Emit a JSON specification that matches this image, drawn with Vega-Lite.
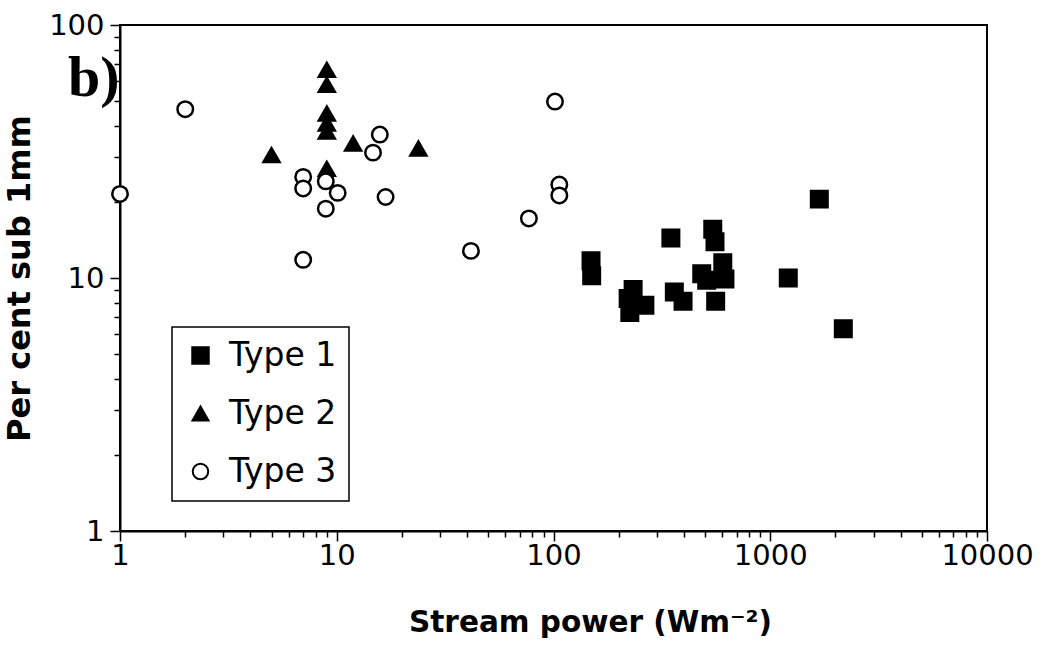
{
  "$schema": "https://vega.github.io/schema/vega-lite/v6.json",
  "autosize": {"type": "none"},
  "padding": {"left": 120, "top": 25, "right": 60, "bottom": 114},
  "width": 867,
  "height": 506,
  "background": "white",
  "title": {
    "text": "b)",
    "anchor": "start",
    "orient": "top",
    "frame": "group",
    "font": "Liberation Serif",
    "fontWeight": "bold",
    "fontSize": 58,
    "color": "black",
    "baseline": "alphabetic",
    "offset": 0,
    "dx": -52,
    "dy": 143
  },
  "config": {
    "view": {"stroke": "black", "strokeWidth": 2},
    "axis": {
      "domainColor": "black",
      "domainWidth": 2,
      "tickColor": "black",
      "tickWidth": 1.5,
      "grid": false,
      "labelFont": "DejaVu Sans",
      "labelFontSize": 29,
      "labelColor": "black",
      "labelFlush": false,
      "labelOverlap": false,
      "titleFont": "DejaVu Sans",
      "titleFontWeight": "bold",
      "titleColor": "black"
    },
    "legend": {
      "orient": "none",
      "legendX": 52,
      "legendY": 302,
      "strokeColor": "black",
      "strokeWidth": 1.5,
      "padding": 12,
      "symbolSize": 160,
      "symbolStrokeColor": "black",
      "symbolStrokeWidth": 2,
      "symbolOffset": 0,
      "labelFont": "DejaVu Sans",
      "labelFontSize": 33,
      "labelColor": "black",
      "labelOffset": 12,
      "rowPadding": 24
    }
  },
  "data": {
    "values": [
      {"power": 1684, "pct": 20.5, "type": "Type 1"},
      {"power": 348, "pct": 14.4, "type": "Type 1"},
      {"power": 543, "pct": 15.6, "type": "Type 1"},
      {"power": 556, "pct": 13.9, "type": "Type 1"},
      {"power": 604, "pct": 11.5, "type": "Type 1"},
      {"power": 618, "pct": 9.9, "type": "Type 1"},
      {"power": 483, "pct": 10.4, "type": "Type 1"},
      {"power": 509, "pct": 9.8, "type": "Type 1"},
      {"power": 149, "pct": 11.7, "type": "Type 1"},
      {"power": 150, "pct": 10.2, "type": "Type 1"},
      {"power": 233, "pct": 9.0, "type": "Type 1"},
      {"power": 221, "pct": 8.3, "type": "Type 1"},
      {"power": 225, "pct": 7.3, "type": "Type 1"},
      {"power": 264, "pct": 7.8, "type": "Type 1"},
      {"power": 361, "pct": 8.8, "type": "Type 1"},
      {"power": 396, "pct": 8.1, "type": "Type 1"},
      {"power": 560, "pct": 8.1, "type": "Type 1"},
      {"power": 1211, "pct": 10.0, "type": "Type 1"},
      {"power": 2173, "pct": 6.3, "type": "Type 1"},
      {"power": 5, "pct": 30.6, "type": "Type 2"},
      {"power": 9, "pct": 66.5, "type": "Type 2"},
      {"power": 9, "pct": 58.0, "type": "Type 2"},
      {"power": 9, "pct": 44.7, "type": "Type 2"},
      {"power": 9, "pct": 40.8, "type": "Type 2"},
      {"power": 9, "pct": 37.9, "type": "Type 2"},
      {"power": 9, "pct": 27.0, "type": "Type 2"},
      {"power": 11.9, "pct": 34.0, "type": "Type 2"},
      {"power": 23.8, "pct": 32.5, "type": "Type 2"},
      {"power": 1, "pct": 21.5, "type": "Type 3"},
      {"power": 2, "pct": 46.5, "type": "Type 3"},
      {"power": 7, "pct": 25.1, "type": "Type 3"},
      {"power": 7, "pct": 22.6, "type": "Type 3"},
      {"power": 7, "pct": 11.8, "type": "Type 3"},
      {"power": 8.9, "pct": 24.1, "type": "Type 3"},
      {"power": 8.9, "pct": 18.8, "type": "Type 3"},
      {"power": 10.1, "pct": 21.7, "type": "Type 3"},
      {"power": 15.8, "pct": 36.9, "type": "Type 3"},
      {"power": 14.7, "pct": 31.3, "type": "Type 3"},
      {"power": 16.8, "pct": 20.9, "type": "Type 3"},
      {"power": 41.6, "pct": 12.8, "type": "Type 3"},
      {"power": 77, "pct": 17.2, "type": "Type 3"},
      {"power": 101.6, "pct": 49.8, "type": "Type 3"},
      {"power": 106.4, "pct": 23.4, "type": "Type 3"},
      {"power": 106.4, "pct": 21.2, "type": "Type 3"}
    ]
  },
  "mark": {"type": "point", "strokeWidth": 2.5, "opacity": 1, "clip": false},
  "encoding": {
    "x": {
      "field": "power",
      "type": "quantitative",
      "scale": {"type": "log", "domain": [1, 10000], "nice": false},
      "axis": {
        "title": "Stream power (Wm⁻²)",
        "titleFontSize": 29.5,
        "titleX": 470,
        "values": [1,2,3,4,5,6,7,8,9,10,20,30,40,50,60,70,80,90,100,200,300,400,500,600,700,800,900,1000,2000,3000,4000,5000,6000,7000,8000,9000,10000],
        "labelExpr": "indexof([1,10,100,1000,10000], datum.value) >= 0 ? format(datum.value, 'd') : ''",
        "tickSize": {"condition": {"test": "indexof([1,10,100,1000,10000], datum.value) >= 0", "value": 10}, "value": 6},
        "labelPadding": 0,
        "titlePadding": 38
      }
    },
    "y": {
      "field": "pct",
      "type": "quantitative",
      "scale": {"type": "log", "domain": [1, 100], "nice": false},
      "axis": {
        "title": "Per cent sub 1mm",
        "titleFontSize": 32,
        "values": [1,2,3,4,5,6,7,8,9,10,20,30,40,50,60,70,80,90,100],
        "labelExpr": "indexof([1,10,100], datum.value) >= 0 ? format(datum.value, 'd') : ''",
        "tickSize": {"condition": {"test": "indexof([1,10,100], datum.value) >= 0", "value": 10}, "value": 6},
        "labelPadding": 6,
        "titlePadding": 12
      }
    },
    "shape": {
      "field": "type",
      "type": "nominal",
      "scale": {"domain": ["Type 1", "Type 2", "Type 3"], "range": ["square", "triangle-up", "circle"]},
      "legend": {"title": null}
    },
    "fill": {
      "field": "type",
      "type": "nominal",
      "scale": {"domain": ["Type 1", "Type 2", "Type 3"], "range": ["black", "black", "white"]},
      "legend": {"title": null}
    },
    "stroke": {
      "field": "type",
      "type": "nominal",
      "scale": {"domain": ["Type 1", "Type 2", "Type 3"], "range": ["black", "black", "black"]},
      "legend": {"title": null}
    },
    "size": {
      "field": "type",
      "type": "nominal",
      "scale": {"domain": ["Type 1", "Type 2", "Type 3"], "range": [272, 240, 180]},
      "legend": {"title": null, "encode": {"symbols": {"update": {"size": {"value": 160}}}}}
    },
    "order": {"field": "type", "type": "nominal", "sort": "ascending"}
  }
}
